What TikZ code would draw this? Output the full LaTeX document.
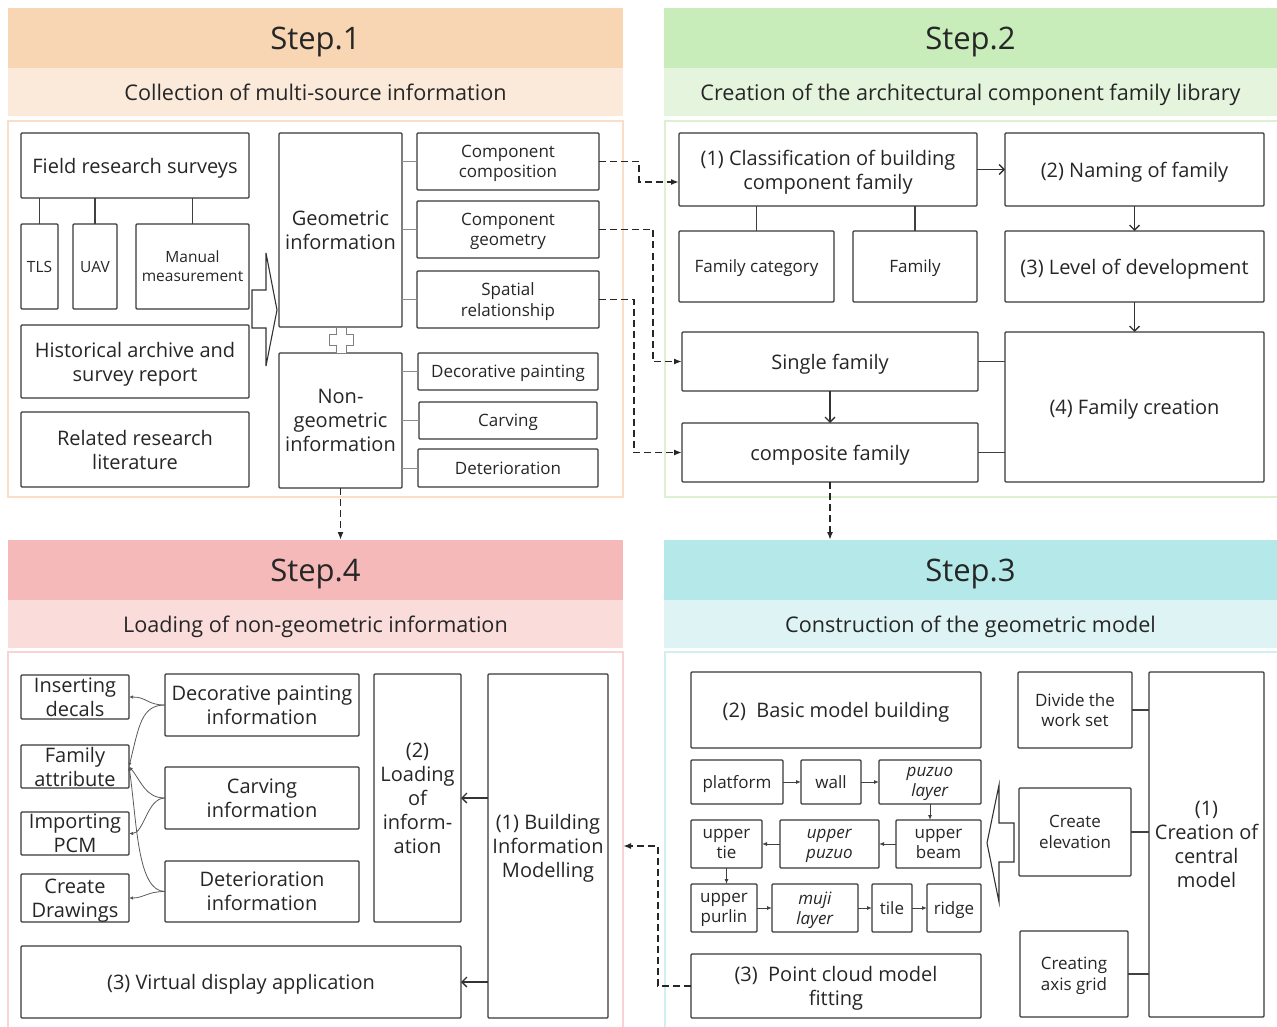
\documentclass[tikz,border=0pt]{standalone}
\usepackage{fontspec}
\setmainfont{Open Sans}
\usepackage{tikz}
\usetikzlibrary{arrows.meta,calc,positioning}
\definecolor{oneDark}{RGB}{248,213,179}
\definecolor{oneLight}{RGB}{251,233,218}
\definecolor{oneLine}{RGB}{250,222,200}
\definecolor{twoDark}{RGB}{201,237,186}
\definecolor{twoLight}{RGB}{229,245,221}
\definecolor{twoLine}{RGB}{220,241,210}
\definecolor{threeDark}{RGB}{181,233,233}
\definecolor{threeLight}{RGB}{222,244,244}
\definecolor{threeLine}{RGB}{210,239,239}
\definecolor{fourDark}{RGB}{244,185,184}
\definecolor{fourLight}{RGB}{250,220,219}
\definecolor{fourLine}{RGB}{248,212,212}
\definecolor{ink}{RGB}{38,38,38}
\tikzset{
  box/.style={draw=black!78, line width=1.2pt, rounded corners=1pt, align=center,
    inner sep=1pt, outer sep=0pt, text=ink, text depth=0pt,
    font=\fontsize{20}{24}\selectfont},
  fsmall/.style={font=\fontsize{17}{20.5}\selectfont},
  ftiny/.style={font=\fontsize{15.5}{19}\selectfont},
  fhead/.style={font=\fontsize{31}{36}\selectfont},
  fsub/.style={font=\fontsize{21.6}{26}\selectfont},
  band/.style={draw=none, rounded corners=0pt, inner sep=0pt},
  panel/.style={line width=1.2pt},
  link/.style={draw=black!45, line width=1pt},
  linkDark/.style={draw=black!75, line width=1.2pt},
  flow/.style={-{Straight Barb[length=5pt,width=10pt]}, draw=black!80, line width=1.3pt},
  jump/.style={-{Latex[length=8pt,width=6pt]}, draw=black!85, line width=1.8pt,
    dash pattern=on 7pt off 4pt},
  chain/.style={-{Latex[length=5pt,width=4pt]}, draw=black!75, line width=1pt},
  curl/.style={-{Latex[length=4pt,width=3.5pt]}, draw=black!65, line width=0.8pt},
  hollow/.style={draw=black!80, line width=1.1pt, fill=white, line join=miter}
}
% box from its corners: [style]{name}{x1}{y1}{x2}{y2}{text}
\newcommand{\BoxAt}[7][]{%
  \node[box, #1, minimum width={(#5-#3)*1pt}, minimum height={(#6-#4)*1pt}]
    (#2) at ({(#3+#5)/2},{(#4+#6)/2}) {#7};%
}
\begin{document}
\begin{tikzpicture}[x=1pt,y=-1pt]
  \useasboundingbox (0,0) rectangle (1277,1027);
  % step bands
  \BoxAt[band,fill=oneDark,fhead]{s1head}{8}{8}{623}{68}{Step.1}
  \BoxAt[band,fill=oneLight,fsub]{s1sub}{8}{68}{623}{116}{Collection of multi-source information}
  \BoxAt[band,fill=twoDark,fhead]{s2head}{664}{8}{1277}{68}{Step.2}
  \BoxAt[band,fill=twoLight,fsub]{s2sub}{664}{68}{1277}{116}{Creation of the architectural component family library}
  \BoxAt[band,fill=fourDark,fhead]{s4head}{8}{540}{623}{600}{Step.4}
  \BoxAt[band,fill=fourLight,fsub]{s4sub}{8}{600}{623}{648}{Loading of non-geometric information}
  \BoxAt[band,fill=threeDark,fhead]{s3head}{664}{540}{1277}{600}{Step.3}
  \BoxAt[band,fill=threeLight,fsub]{s3sub}{664}{600}{1277}{648}{Construction of the geometric model}
  % panels
  \draw[panel,draw=oneLine] (8,121) rectangle (623,497);
  \draw[panel,draw=twoLine] (665,121) rectangle (1290,497);
  \draw[panel,draw=fourLine] (8,652) rectangle (623,1040);
  \draw[panel,draw=threeLine] (665,652) rectangle (1290,1040);

  % Step.1
  \BoxAt{field}{21}{133}{249}{198}{Field research surveys}
  \BoxAt[ftiny]{tls}{21}{224}{58}{309}{TLS}
  \BoxAt[ftiny]{uav}{73}{224}{117}{309}{UAV}
  \BoxAt[ftiny]{manual}{136}{224}{249}{309}{Manual\\measurement}
  \BoxAt{hist}{21}{325}{249}{398}{Historical archive and\\survey report}
  \BoxAt{lit}{21}{412}{249}{487}{Related research\\literature}
  \BoxAt{geo}{279}{133}{402}{327}{Geometric\\information}
  \BoxAt{nongeo}{279}{353}{402}{488}{Non-\\geometric\\information}
  \BoxAt[fsmall]{compo}{417}{133}{599}{190}{Component\\composition}
  \BoxAt[fsmall]{cgeo}{417}{201}{599}{258}{Component\\geometry}
  \BoxAt[fsmall]{spat}{417}{271}{599}{328}{Spatial\\relationship}
  \BoxAt[fsmall]{deco}{418}{353}{598}{390}{Decorative painting}
  \BoxAt[fsmall]{carv}{419}{402}{597}{439}{Carving}
  \BoxAt[fsmall]{deter}{418}{449}{598}{487}{Deterioration}
  \foreach \n in {tls,uav,manual}
    \draw[linkDark] (\n.north) -- (\n.north |- field.south);
  \foreach \n in {compo,cgeo,spat}
    \draw[link] (\n.west -| geo.east) -- (\n.west);
  \foreach \n in {deco,carv,deter}
    \draw[link] (\n.west -| nongeo.east) -- (\n.west);
  \draw[hollow] (252,290) -- (266,290) -- (266,253) -- (277,310) -- (266,366)
    -- (266,328) -- (252,328) -- cycle;
  \draw[hollow,draw=black!50,line width=1pt] (336,327) -- (346,327) -- (346,334)
    -- (353,334) -- (353,345) -- (346,345) -- (346,353) -- (336,353) -- (336,345)
    -- (329,345) -- (329,334) -- (336,334) -- cycle;

  % Step.2
  \BoxAt{classif}{679}{133}{977}{206}{(1) Classification of building\\component family}
  \BoxAt{naming}{1005}{133}{1264}{206}{(2) Naming of family}
  \BoxAt[fsmall]{famcat}{679}{231}{834}{302}{Family category}
  \BoxAt[fsmall]{fam}{853}{231}{977}{302}{Family}
  \BoxAt{level}{1005}{231}{1264}{302}{(3) Level of development}
  \BoxAt{single}{682}{332}{978}{391}{Single family}
  \BoxAt{compfam}{682}{423}{978}{482}{composite family}
  \BoxAt{famcreate}{1005}{332}{1264}{482}{(4) Family creation}
  \foreach \n in {famcat,fam}
    \draw[linkDark] (\n.north) -- (\n.north |- classif.south);
  \draw[flow] (classif) -- (naming);
  \draw[flow] (naming) -- (level);
  \draw[flow] (level) -- (famcreate);
  \draw[flow] (single) -- (compfam);
  \foreach \n in {single,compfam}
    \draw[linkDark] (\n.east) -- (\n.east -| famcreate.west);

  % Step.4
  \BoxAt{insert}{21}{675}{129}{719}{Inserting\\decals}
  \BoxAt{fattr}{21}{745}{129}{788}{Family\\attribute}
  \BoxAt{import}{21}{812}{129}{855}{Importing\\PCM}
  \BoxAt{drawings}{21}{874}{129}{922}{Create\\Drawings}
  \BoxAt{decoinfo}{165}{674}{359}{736}{Decorative painting\\information}
  \BoxAt{carvinfo}{165}{767}{359}{829}{Carving\\information}
  \BoxAt{deterinfo}{165}{861}{359}{922}{Deterioration\\information}
  \BoxAt{load}{374}{674}{461}{922}{(2)\\Loading\\of\\inform-\\ation}
  \BoxAt{bim}{488}{674}{608}{1018}{(1) Building\\Information\\Modelling}
  \BoxAt{virt}{21}{946}{461}{1018}{(3) Virtual display application}
  \draw[flow] (bim.west |- load.east) -- (load.east);
  \draw[flow] (bim.west |- virt.east) -- (virt.east);
  \draw[curl] (decoinfo.west) .. controls +(-18,0) and +(18,0) .. (insert.east);
  \draw[curl] (decoinfo.west) .. controls +(-24,0) and +(10,-40) .. (fattr.east);
  \draw[curl] (carvinfo.west) .. controls +(-20,0) and +(12,14) .. (fattr.east);
  \draw[curl] (carvinfo.west) .. controls +(-18,0) and +(15,0) .. (import.east);
  \draw[curl] (deterinfo.west) .. controls +(-28,0) and +(8,55) .. (fattr.east);
  \draw[curl] (deterinfo.west) .. controls +(-18,0) and +(15,0) .. (drawings.east);

  % Step.3
  \BoxAt{basic}{691}{672}{981}{748}{(2)\ \ Basic model building}
  \BoxAt[fsmall]{platform}{691}{760}{783}{804}{platform}
  \BoxAt[fsmall]{wall}{801}{760}{861}{804}{wall}
  \BoxAt[fsmall]{puzuo}{879}{760}{981}{804}{\textit{puzuo}\\\textit{layer}}
  \BoxAt[fsmall]{utie}{691}{820}{762}{868}{upper\\tie}
  \BoxAt[fsmall]{upuzuo}{780}{820}{879}{868}{\textit{upper}\\\textit{puzuo}}
  \BoxAt[fsmall]{ubeam}{896}{820}{981}{868}{upper\\beam}
  \BoxAt[fsmall]{purlin}{691}{884}{757}{932}{upper\\purlin}
  \BoxAt[fsmall]{muji}{772}{884}{858}{932}{\textit{muji}\\\textit{layer}}
  \BoxAt[fsmall]{tile}{872}{884}{912}{932}{tile}
  \BoxAt[fsmall]{ridge}{927}{884}{981}{932}{ridge}
  \BoxAt{pcm}{691}{954}{981}{1018}{(3)\ \ Point cloud model\\fitting}
  \BoxAt[fsmall]{divide}{1018}{672}{1132}{748}{Divide the\\work set}
  \BoxAt[fsmall]{elev}{1019}{788}{1131}{876}{Create\\elevation}
  \BoxAt[fsmall]{grid}{1020}{931}{1128}{1017}{Creating\\axis grid}
  \BoxAt{central}{1149}{672}{1264}{1017}{(1)\\Creation of\\central\\model}
  \draw[chain] (platform) -- (wall);
  \draw[chain] (wall) -- (puzuo);
  \draw[chain] (puzuo.south) -- (puzuo.south |- ubeam.north);
  \draw[chain] (ubeam) -- (upuzuo);
  \draw[chain] (upuzuo) -- (utie);
  \draw[chain] (utie.south) -- (utie.south |- purlin.north);
  \draw[chain] (purlin) -- (muji);
  \draw[chain] (muji) -- (tile);
  \draw[chain] (tile) -- (ridge);
  \foreach \n in {divide,elev,grid}
    \draw[linkDark] (\n.east) -- (\n.east -| central.west);
  \draw[hollow] (1014,823) -- (999,823) -- (999,785) -- (987,843) -- (999,902)
    -- (999,862) -- (1014,862) -- cycle;

  % dashed hand-overs between steps
  \draw[jump] (compo.east) -- ++(40,0) |- ([yshift=-12.5pt]classif.west);
  \draw[jump] (cgeo.east) -- ++(54,0) |- (single.west);
  \draw[jump] (spat.east) -- ++(35,0) |- (compfam.west);
  \draw[jump] (nongeo.south) -- (nongeo.south |- s4head.north);
  \draw[jump] (compfam.south) -- (compfam.south |- s3head.north);
  \draw[jump] (pcm.west) -- ++(-33,0) |- ([xshift=15pt]bim.east);
\end{tikzpicture}
\end{document}
